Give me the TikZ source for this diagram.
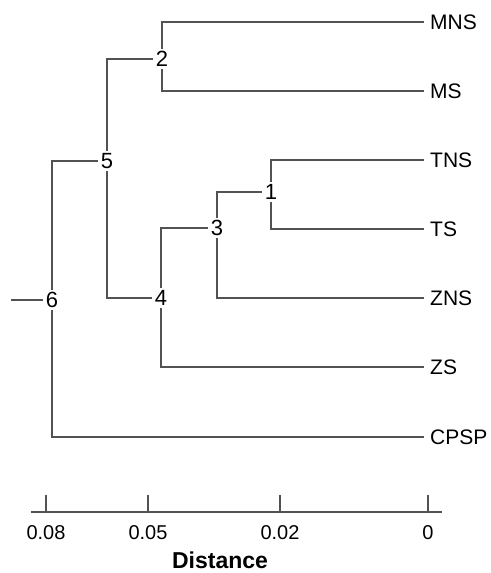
\documentclass[tikz,border=0pt]{standalone}
\usepackage{fontspec}
\setmainfont{Liberation Sans}
\begin{document}
\begin{tikzpicture}[x=1pt,y=-1pt,
  edge/.style={draw=black!68,line width=1.1pt},
  inner/.style={inner sep=2.5pt,font=\fontsize{22}{22}\selectfont},
  leaf/.style={anchor=west,inner sep=0pt,font=\fontsize{21}{21}\selectfont},
  tlab/.style={inner sep=0pt,font=\fontsize{20}{20}\selectfont}]
\useasboundingbox (0,0) rectangle (490,573);
% leaves
\node[leaf] (MNS) at (430,22) {MNS};
\node[leaf] (MS) at (430,91) {MS};
\node[leaf] (TNS) at (430,160) {TNS};
\node[leaf] (TS) at (430,229) {TS};
\node[leaf] (ZNS) at (430,298) {ZNS};
\node[leaf] (ZS) at (430,367) {ZS};
\node[leaf] (CPSP) at (430,437) {CPSP};
% internal nodes
\node[inner] (n2) at (162,59) {2};
\node[inner] (n5) at (107,161) {5};
\node[inner] (n1) at (271,192) {1};
\node[inner] (n3) at (217,228) {3};
\node[inner] (n4) at (161,298) {4};
\node[inner] (n6) at (52,300) {6};
\coordinate (root) at (11,300);
% edges
\draw[edge] (n2.north) |- ([xshift=-6pt]MNS.west);
\draw[edge] (n2.south) |- ([xshift=-6pt]MS.west);
\draw[edge] (n1.north) |- ([xshift=-6pt]TNS.west);
\draw[edge] (n1.south) |- ([xshift=-6pt]TS.west);
\draw[edge] (n3.north) |- (n1.west);
\draw[edge] (n3.south) |- ([xshift=-6pt]ZNS.west);
\draw[edge] (n4.north) |- (n3.west);
\draw[edge] (n4.south) |- ([xshift=-6pt]ZS.west);
\draw[edge] (n5.north) |- (n2.west);
\draw[edge] (n5.south) |- (n4.west);
\draw[edge] (n6.north) |- (n5.west);
\draw[edge] (n6.south) |- ([xshift=-6pt]CPSP.west);
\draw[edge] (root) -- (n6.west);
% axis
\coordinate (a0) at (31,512);
\coordinate (a1) at (442,512);
\draw[edge] (a0) -- (a1);
\foreach \x/\t/\n in {46/0.08/ta,148/0.05/tb,280/0.02/tc,428/0/td}{
  \coordinate (\n top) at (\x,495);
  \coordinate (\n bot) at (\x,512);
  \draw[edge] (\n top) -- (\n bot);
  \node[tlab] (\n) at (\x,533) {\t};
}
\node[inner sep=0pt,font=\fontsize{23}{23}\selectfont\bfseries] (dist) at (220,560) {Distance};
\end{tikzpicture}
\end{document}
